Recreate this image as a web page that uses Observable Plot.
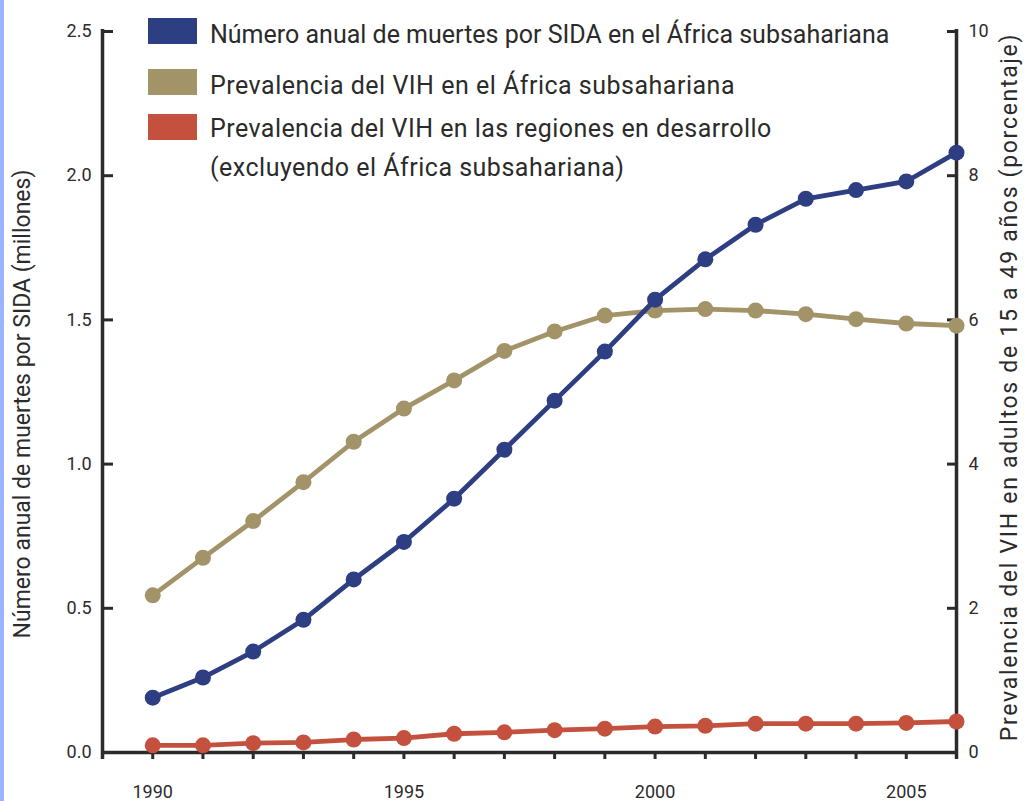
<!DOCTYPE html>
<html>
<head>
<meta charset="utf-8">
<script src="https://cdn.jsdelivr.net/npm/d3@7"></script>
<script src="https://cdn.jsdelivr.net/npm/@observablehq/plot@0.6"></script>
<style>
  html, body { margin: 0; padding: 0; background: #fff; }
  #wrap { position: relative; width: 1024px; height: 801px; overflow: hidden; font-family: Roboto, "Liberation Sans", sans-serif; }
  #strip { position: absolute; left: 0; top: 0; width: 4px; height: 801px; background: #9bb3ff; }
  #legend { position: absolute; left: 0; top: 0; width: 1024px; height: 200px; pointer-events: none; }
  .sw { position: absolute; left: 148px; width: 49px; height: 26px; }
  .lt { position: absolute; left: 210px; font-size: 25px; color: #2b2b2b; white-space: nowrap; line-height: 1; }
</style>
</head>
<body>
<div id="wrap"><div id="strip"></div></div>
<script>
// ---- data ----
const years = [1990, 1991, 1992, 1993, 1994, 1995, 1996, 1997, 1998, 1999, 2000, 2001, 2002, 2003, 2004, 2005, 2006];
// Annual AIDS deaths in sub-Saharan Africa (millions) - left axis
const deaths = [0.19, 0.26, 0.35, 0.46, 0.60, 0.73, 0.88, 1.05, 1.22, 1.39, 1.57, 1.71, 1.83, 1.92, 1.95, 1.98, 2.08];
// HIV prevalence in sub-Saharan Africa (%) - right axis
const prevSSA = [2.18, 2.70, 3.21, 3.75, 4.31, 4.77, 5.16, 5.57, 5.84, 6.06, 6.13, 6.15, 6.13, 6.08, 6.01, 5.95, 5.92];
// HIV prevalence in developing regions excl. SSA (%) - right axis
const prevDev = [0.10, 0.10, 0.13, 0.14, 0.18, 0.20, 0.26, 0.28, 0.31, 0.33, 0.36, 0.37, 0.40, 0.40, 0.40, 0.41, 0.43];

const seriesNames = [
  "Número anual de muertes por SIDA en el África subsahariana",
  "Prevalencia del VIH en el África subsahariana",
  "Prevalencia del VIH en las regiones en desarrollo",
  "(excluyendo el África subsahariana)"
];
const seriesColors = ["#2d3e82", "#a39368", "#c4513e"];

const xTicks = [1989, 1990, 1991, 1992, 1993, 1994, 1995, 1996, 1997, 1998, 1999, 2000, 2001, 2002, 2003, 2004, 2005, 2006];
const xLabels = [1990, 1995, 2000, 2005];
const leftTicks = [0, 0.5, 1.0, 1.5, 2.0, 2.5];
const rightTicks = [0, 2, 4, 6, 8, 10];
const leftTitle = "Número anual de muertes por SIDA (millones)";
const rightTitle = "Prevalencia del VIH en adultos de 15 a 49 años (porcentaje)";

// right axis (0–10 %) mapped onto left scale (0–2.5)
const K = 4;
const rows = years.map((year, i) => ({year, deaths: deaths[i], ssa: prevSSA[i] / K, dev: prevDev[i] / K}));

const ink = "#2b2b2b";
const lw = 4.8, r = 8;

const chart = Plot.plot({
  width: 1024,
  height: 801,
  marginLeft: 102,
  marginRight: 68,
  marginTop: 31,
  marginBottom: 49,
  x: {domain: [1989, 2006]},
  y: {domain: [0, 2.5]},
  style: {fontFamily: "Roboto, 'Liberation Sans', sans-serif", background: "transparent", color: ink},
  marks: [
    Plot.axisX(xTicks, {tickSize: 7, tickPadding: 26, strokeWidth: 3, stroke: ink, fill: ink, fontSize: 18,
      tickFormat: d => xLabels.includes(d) ? String(d) : "", label: null}),
    Plot.axisY(leftTicks, {anchor: "left", tickSize: -11, tickPadding: 22, strokeWidth: 3, stroke: ink, fill: ink, fontSize: 18,
      tickFormat: d3.format(".1f"), label: null}),
    Plot.axisY(rightTicks.map(v => v / K), {anchor: "right", tickSize: -10, tickPadding: 22, strokeWidth: 3, stroke: ink, fill: ink, fontSize: 18,
      tickFormat: d => String(Math.round(d * K)), label: null}),
    Plot.ruleX([1989, 2006], {stroke: ink, strokeWidth: 3.5, insetBottom: -7, insetTop: -2}),
    Plot.ruleY([0], {stroke: ink, strokeWidth: 3.5}),
    Plot.text([leftTitle], {frameAnchor: "left", textAnchor: "middle", lineAnchor: "middle", rotate: -90, dx: -80, dy: 12, fontSize: 23, fill: ink}),
    Plot.text([rightTitle], {frameAnchor: "right", textAnchor: "middle", lineAnchor: "middle", rotate: -90, dx: 53, dy: -5, fontSize: 23, fill: ink, className: "rtitle"}),
    Plot.line(rows, {x: "year", y: "dev", stroke: seriesColors[2], strokeWidth: lw}),
    Plot.dot(rows, {x: "year", y: "dev", r, fill: seriesColors[2], stroke: "none"}),
    Plot.line(rows, {x: "year", y: "ssa", stroke: seriesColors[1], strokeWidth: lw}),
    Plot.dot(rows, {x: "year", y: "ssa", r, fill: seriesColors[1], stroke: "none"}),
    Plot.line(rows, {x: "year", y: "deaths", stroke: seriesColors[0], strokeWidth: lw}),
    Plot.dot(rows, {x: "year", y: "deaths", r, fill: seriesColors[0], stroke: "none"})
  ]
});
// widen the right axis title's letter spacing to match the reference's set width
d3.select(chart).selectAll(".rtitle text").style("letter-spacing", "1.7px");
chart.style.position = "absolute";
chart.style.left = "0";
chart.style.top = "0";
const wrap = document.getElementById("wrap");
wrap.appendChild(chart);

// legend (HTML, overlaid in the upper plot area)
const legend = document.createElement("div");
legend.id = "legend";
const swTops = [18, 69, 114];
const textTops = [22, 73, 116, 155];
const spacing = ["0px", "0.5px", "0.45px", "0.5px"];
seriesColors.forEach((c, i) => {
  const s = document.createElement("div");
  s.className = "sw";
  s.style.top = swTops[i] + "px";
  s.style.background = c;
  legend.appendChild(s);
});
seriesNames.forEach((t, i) => {
  const d = document.createElement("div");
  d.className = "lt";
  d.style.top = textTops[i] + "px";
  d.style.letterSpacing = spacing[i];
  d.textContent = t;
  legend.appendChild(d);
});
wrap.appendChild(legend);
</script>
</body>
</html>
